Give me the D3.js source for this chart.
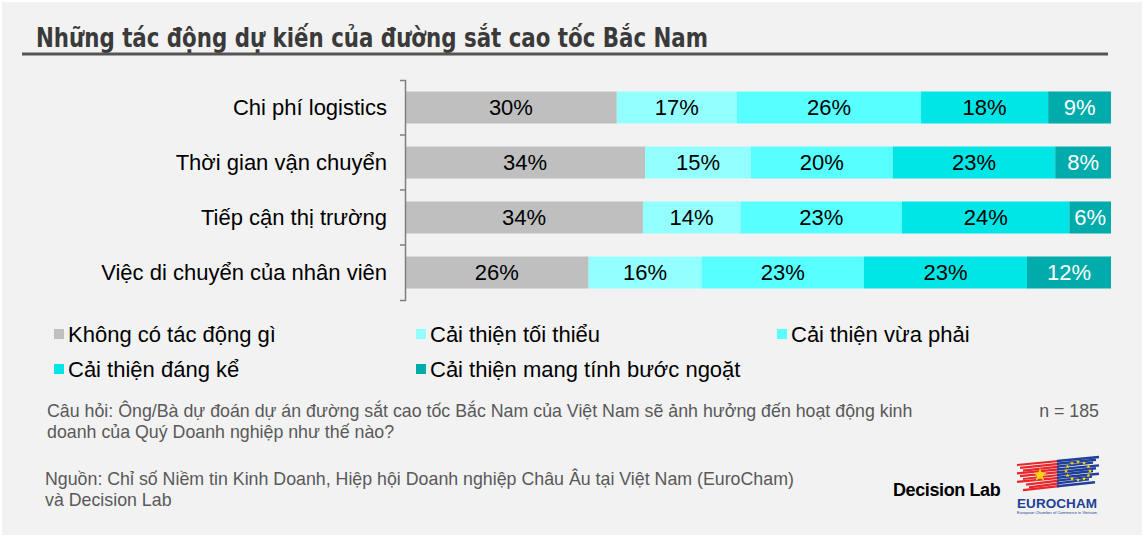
<!DOCTYPE html>
<html>
<head>
<meta charset="utf-8">
<script src="https://cdn.jsdelivr.net/npm/d3@7"></script>
<style>
  html, body { margin: 0; padding: 0; background: #ffffff; }
  svg { display: block; font-family: "Liberation Sans", Arial, Helvetica, sans-serif; }
</style>
</head>
<body>
<div id="chart"></div>
<script>
// categories (top to bottom)
const categories = [
    "Chi phí logistics",
    "Thời gian vận chuyển",
    "Tiếp cận thị trường",
    "Việc di chuyển của nhân viên"
];

// series, in stacking order
const seriesNames = [
    "Không có tác động gì",
    "Cải thiện tối thiểu",
    "Cải thiện vừa phải",
    "Cải thiện đáng kể",
    "Cải thiện mang tính bước ngoặt"
];

// shares (%) per category
const noImpact    = [30.0, 34.0, 33.7, 26.0];
const minimal     = [17.0, 15.0, 13.8, 16.0];
const moderate    = [26.1, 20.1, 22.9, 23.0];
const significant = [18.0, 23.0, 23.7, 23.1];
const gameChanger = [ 8.9,  7.9,  5.9, 11.9];

const seriesColors = ["#bfbfbf", "#94ffff", "#57ffff", "#00e5e5", "#00abab"];
const labelColors  = ["#000", "#000", "#000", "#000", "#fff"];

const title = "Những tác động dự kiến của đường sắt cao tốc Bắc Nam";
const questionLines = [
    "Câu hỏi: Ông/Bà dự đoán dự án đường sắt cao tốc Bắc Nam của Việt Nam sẽ ảnh hưởng đến hoạt động kinh",
    "doanh của Quý Doanh nghiệp như thế nào?"
];
const sampleNote = "n = 185";
const sourceLines = [
    "Nguồn: Chỉ số Niềm tin Kinh Doanh, Hiệp hội Doanh nghiệp Châu Âu tại Việt Nam (EuroCham)",
    "và Decision Lab"
];

// build table for d3.stack
const allSeries = [noImpact, minimal, moderate, significant, gameChanger];
const table = categories.map((c, i) => {
    const row = { category: c };
    seriesNames.forEach((s, j) => { row[s] = allSeries[j][i]; });
    return row;
});

const W = 1144, H = 537;
const svg = d3.select("#chart").append("svg")
    .attr("width", W)
    .attr("height", H);

// background panel with thin white border
svg.append("rect")
    .attr("x", 2).attr("y", 2)
    .attr("width", W - 4).attr("height", H - 4)
    .attr("fill", "#f2f2f2");

// title + rule
svg.append("text")
    .attr("x", 36).attr("y", 47)
    .attr("font-family", "'Liberation Sans Narrow', 'DejaVu Sans Condensed', 'Liberation Sans', Arial, sans-serif")
    .attr("font-weight", "bold")
    .attr("font-size", 26)
    .attr("fill", "#3a3a3a")
    .attr("textLength", 672)
    .attr("lengthAdjust", "spacingAndGlyphs")
    .text(title);

svg.append("line")
    .attr("x1", 22).attr("x2", 1108)
    .attr("y1", 54).attr("y2", 54)
    .attr("stroke", "#555")
    .attr("stroke-width", 3);

// scales
const x = d3.scaleLinear().domain([0, 100]).range([405, 1111]);
const pad = 0.418;
const y = d3.scaleBand()
    .domain(categories)
    .range([80, 300])
    .paddingInner(pad)
    .paddingOuter(pad / 2);

const color = d3.scaleOrdinal().domain(seriesNames).range(seriesColors);
const labelColor = d3.scaleOrdinal().domain(seriesNames).range(labelColors);

const stacked = d3.stack().keys(seriesNames)(table);

const bigFont = 22;

// bars
const layers = svg.append("g").selectAll("g")
    .data(stacked)
    .join("g")
    .attr("fill", d => color(d.key));

layers.selectAll("rect")
    .data(d => d.map(v => Object.assign(v, { key: d.key })))
    .join("rect")
    .attr("x", d => x(d[0]))
    .attr("y", d => y(d.data.category))
    .attr("width", d => x(d[1]) - x(d[0]))
    .attr("height", y.bandwidth());

layers.selectAll("text")
    .data(d => d)
    .join("text")
    .attr("x", d => (x(d[0]) + x(d[1])) / 2)
    .attr("y", d => y(d.data.category) + y.bandwidth() / 2)
    .attr("dy", "0.36em")
    .attr("text-anchor", "middle")
    .attr("font-size", bigFont)
    .attr("fill", d => labelColor(d.key))
    .text(d => Math.round(d[1] - d[0]) + "%");

// axis
const axis = svg.append("g")
    .attr("transform", `translate(${x(0)},0)`)
    .call(d3.axisLeft(y).tickSizeInner(0).tickSizeOuter(5).tickPadding(18));
axis.select(".domain").attr("stroke", "#7f7f7f").attr("stroke-width", 1.5);
axis.selectAll(".tick text")
    .attr("font-size", bigFont)
    .attr("font-family", "'Liberation Sans', Arial, sans-serif")
    .attr("fill", "#000");

// tick marks between categories
axis.selectAll(".sep")
    .data(categories.slice(1))
    .join("line")
    .attr("class", "sep")
    .attr("x1", -5).attr("x2", 0)
    .attr("y1", d => y(d) - y.step() * pad / 2)
    .attr("y2", d => y(d) - y.step() * pad / 2)
    .attr("stroke", "#7f7f7f")
    .attr("stroke-width", 1.5);

// legend
const legendCols = [54, 416, 777];
const legendRows = [334, 369];
const legend = svg.append("g").selectAll("g")
    .data(seriesNames)
    .join("g")
    .attr("transform", (d, i) => `translate(${legendCols[i % 3]},${legendRows[Math.floor(i / 3)]})`);
legend.append("rect")
    .attr("x", 0).attr("y", -5)
    .attr("width", 10).attr("height", 10)
    .attr("fill", d => color(d));
legend.append("text")
    .attr("x", 14)
    .attr("dy", "0.36em")
    .attr("font-size", bigFont)
    .attr("fill", "#000")
    .text(d => d);

// notes
const noteFont = 17.8;
svg.append("g").selectAll("text")
    .data(questionLines)
    .join("text")
    .attr("x", 47)
    .attr("y", (d, i) => 417 + i * 21)
    .attr("font-size", noteFont)
    .attr("fill", "#595959")
    .text(d => d);

svg.append("text")
    .attr("x", 1099).attr("y", 417)
    .attr("text-anchor", "end")
    .attr("font-size", noteFont)
    .attr("fill", "#595959")
    .text(sampleNote);

svg.append("g").selectAll("text")
    .data(sourceLines)
    .join("text")
    .attr("x", 45)
    .attr("y", (d, i) => 485 + i * 21)
    .attr("font-size", noteFont)
    .attr("fill", "#595959")
    .text(d => d);

// Decision Lab wordmark
svg.append("text")
    .attr("x", 893).attr("y", 496)
    .attr("font-size", 18)
    .attr("font-weight", "bold")
    .attr("letter-spacing", -0.4)
    .attr("fill", "#000")
    .text("Decision Lab");

// EuroCham logo (rough)
const logo = svg.append("g").attr("transform", "translate(1015,456)");
const strokes = d3.range(10);
logo.selectAll(".red")
    .data(strokes)
    .join("line")
    .attr("x1", i => 2 + (i % 3) * 3 + (i > 6 ? 6 : 0))
    .attr("x2", 44)
    .attr("y1", i => 9 + i * 2.8)
    .attr("y2", i => 5 + i * 2.8)
    .attr("stroke", "#e8262b")
    .attr("stroke-width", 2.2);
logo.selectAll(".blue")
    .data(strokes)
    .join("line")
    .attr("x1", 42)
    .attr("x2", i => 84 - (i % 3) * 3 - (i > 6 ? 4 : 0))
    .attr("y1", i => 5 + i * 2.8)
    .attr("y2", i => 1 + i * 2.8)
    .attr("stroke", "#1f3f99")
    .attr("stroke-width", 2.4);
logo.append("path")
    .attr("d", d3.symbol(d3.symbolStar, 60)())
    .attr("transform", "translate(25,19)")
    .attr("fill", "#ffd500");
logo.selectAll(".eustar")
    .data(d3.range(12))
    .join("path")
    .attr("d", d3.symbol(d3.symbolStar, 6)())
    .attr("transform", i => {
        const a = i / 12 * 2 * Math.PI;
        return `translate(${63 + 12 * Math.cos(a)},${15 + 9 * Math.sin(a)})`;
    })
    .attr("fill", "#ffd500");
logo.append("text")
    .attr("x", 2).attr("y", 52)
    .attr("font-size", 13.5)
    .attr("font-weight", "bold")
    .attr("fill", "#1f3f99")
    .attr("textLength", 80)
    .text("EUROCHAM");
logo.append("text")
    .attr("x", 2).attr("y", 58)
    .attr("font-size", 4)
    .attr("fill", "#1f3f99")
    .attr("textLength", 80)
    .text("European Chamber of Commerce in Vietnam");
</script>
</body>
</html>
